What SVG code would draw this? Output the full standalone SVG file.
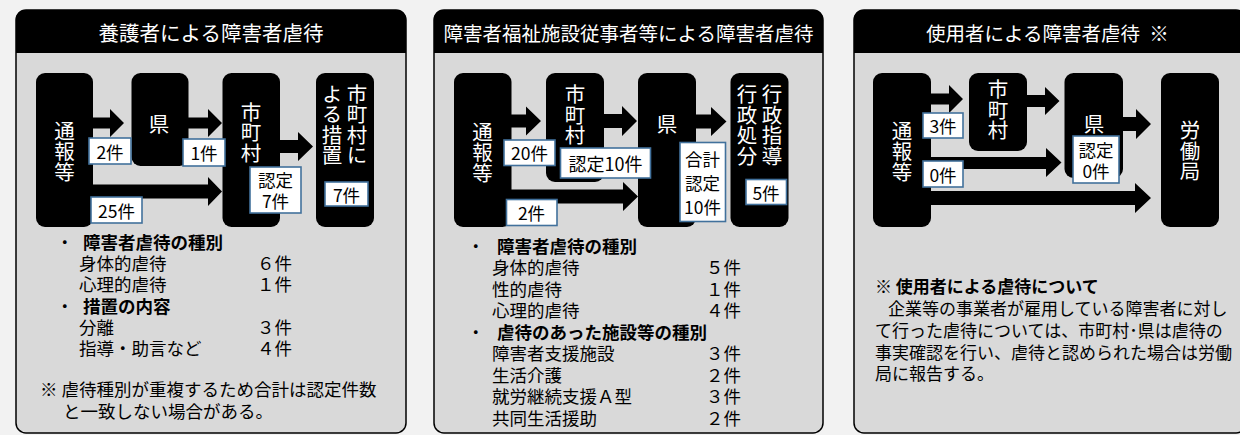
<svg xmlns="http://www.w3.org/2000/svg" width="1240" height="435" viewBox="0 0 1240 435">
<style>
.panel{fill:#d9d9d9;stroke:#000;stroke-width:1.5}
.hdr{fill:#000}
.htxt{fill:#fff;font-family:"Noto Sans CJK JP","Noto Sans",sans-serif;font-size:20.5px;text-anchor:middle;dominant-baseline:central}
.node{fill:#000}
.vtxt{fill:#fff;font-family:"Noto Sans CJK JP","Noto Sans",sans-serif;font-size:20.5px;text-anchor:middle;writing-mode:vertical-rl}
.ntxt{fill:#fff;font-family:"Noto Sans CJK JP","Noto Sans",sans-serif;font-size:20.5px;text-anchor:middle;dominant-baseline:central}
.lbl{fill:#fff;stroke:#41719c;stroke-width:1.6}
.ltxt{fill:#000;font-family:"Noto Sans CJK JP","Noto Sans",sans-serif;font-size:17.5px;text-anchor:middle;dominant-baseline:central}
.arrow{fill:#000}
.body{fill:#000;font-family:"Noto Sans CJK JP","Noto Sans",sans-serif;font-size:17.5px;dominant-baseline:central}
.b3{font-size:17px}
.bold{font-weight:700}
</style>
<rect x="0" y="0" width="1240" height="435" fill="#f2f2f2"/>

<!-- Panel 1 -->
<g id="panel1">
  <rect class="panel" x="16" y="10" width="390" height="423" rx="10"/>
  <path class="hdr" d="M16,53 V20 Q16,10 26,10 H396 Q406,10 406,20 V53 Z"/>
  <text class="htxt" x="211" y="32">養護者による障害者虐待</text>
</g>
<g id="p1-tsuho"><rect class="node" x="36" y="73" width="57" height="154" rx="9"/>
  <text class="vtxt" x="64.5" y="151.5">通報等</text></g>
<g id="p1-ken"><rect class="node" x="131.5" y="73" width="57" height="93" rx="9"/>
  <text class="ntxt" x="159" y="123">県</text></g>
<g id="p1-shichoson"><rect class="node" x="222.5" y="73" width="57.5" height="154" rx="9"/>
  <text class="vtxt" x="251" y="132.5">市町村</text></g>
<g id="p1-sochi"><rect class="node" x="316" y="73" width="58" height="154" rx="9"/>
  <text class="vtxt" x="357" y="124.75">市町村に</text>
  <text class="vtxt" x="332" y="124.75">よる措置</text></g>

<!-- Panel 2 -->
<g id="panel2">
  <rect class="panel" x="434" y="10" width="389" height="423" rx="10"/>
  <path class="hdr" d="M434,53 V20 Q434,10 444,10 H813 Q823,10 823,20 V53 Z"/>
  <text class="htxt" x="628.5" y="32" style="font-size:19.5px">障害者福祉施設従事者等による障害者虐待</text>
</g>
<g id="p2-tsuho"><rect class="node" x="454" y="73" width="57.5" height="154" rx="9"/>
  <text class="vtxt" x="482.5" y="152.5">通報等</text></g>
<g id="p2-shichoson"><rect class="node" x="546" y="73" width="58" height="109" rx="9"/>
  <text class="vtxt" x="575" y="115">市町村</text></g>
<g id="p2-ken"><rect class="node" x="638" y="73" width="58" height="154" rx="9"/>
  <text class="ntxt" x="667" y="123">県</text></g>
<g id="p2-gyosei"><rect class="node" x="730.5" y="73" width="58" height="154" rx="9"/>
  <text class="vtxt" x="772" y="125">行政指導</text>
  <text class="vtxt" x="747" y="125">行政処分</text></g>

<!-- Panel 3 -->
<g id="panel3">
  <rect class="panel" x="854" y="10" width="392" height="423" rx="10"/>
  <path class="hdr" d="M854,53 V20 Q854,10 864,10 H1236 Q1246,10 1246,20 V53 Z"/>
  <text class="htxt" x="926" y="32" style="font-size:19.5px;text-anchor:start">使用者による障害者虐待 <tspan dx="5">※</tspan></text>
</g>
<g id="p3-tsuho"><rect class="node" x="873" y="73" width="58" height="154" rx="9"/>
  <text class="vtxt" x="902" y="151.25">通報等</text></g>
<g id="p3-shichoson"><rect class="node" x="969" y="73" width="58" height="78" rx="9"/>
  <text class="vtxt" x="998" y="110">市町村</text></g>
<g id="p3-ken"><rect class="node" x="1064.5" y="73" width="58.5" height="105" rx="9"/>
  <text class="ntxt" x="1094" y="122.5">県</text></g>
<g id="p3-rodokyoku"><rect class="node" x="1161" y="73" width="58" height="154" rx="9"/>
  <text class="vtxt" x="1190" y="151">労働局</text></g>

<!-- Connectors -->
<g id="connectors">
  <polygon class="arrow" points="92,117.5 110,117.5 110,109 124,123 110,137 110,128.5 92,128.5"/>
  <polygon class="arrow" points="188,117.5 208,117.5 208,109 222,123 208,137 208,128.5 188,128.5"/>
  <polygon class="arrow" points="279,140 298,140 298,132 313,146.5 298,161 298,153 279,153"/>
  <polygon class="arrow" points="92,184.5 208,184.5 208,177 222,191.5 208,206 208,198.5 92,198.5"/>

  <polygon class="arrow" points="511,114.5 526,114.5 526,106.5 541,121 526,135.5 526,127.5 511,127.5"/>
  <polygon class="arrow" points="603,114 622,114 622,106 637,121 622,136 622,128 603,128"/>
  <polygon class="arrow" points="511,189.5 623,189.5 623,182 638,196.5 623,211 623,203.5 511,203.5"/>
  <polygon class="arrow" points="695,114.5 711,114.5 711,107 726.5,121.5 711,136 711,128.5 695,128.5"/>

  <polygon class="arrow" points="930,93.5 949,93.5 949,85 963,99 949,113 949,104.5 930,104.5"/>
  <polygon class="arrow" points="1026,95 1045,95 1045,87 1059.5,101 1045,115 1045,107 1026,107"/>
  <polygon class="arrow" points="930,157 1046,157 1046,148 1061.5,162.5 1046,177 1046,169 930,169"/>
  <polygon class="arrow" points="1122,117 1136,117 1136,109 1151,124 1136,139 1136,131 1122,131"/>
  <polygon class="arrow" points="930,191 1135,191 1135,183 1151,198 1135,213 1135,205 930,205"/>
</g>

<!-- Count labels -->
<g id="p1-lbl-2"><rect class="lbl" x="89" y="138" width="42" height="26"/><text class="ltxt" x="110" y="151">2件</text></g>
<g id="p1-lbl-1"><rect class="lbl" x="183" y="139" width="42" height="27"/><text class="ltxt" x="204" y="152.5">1件</text></g>
<g id="p1-lbl-25"><rect class="lbl" x="91" y="197" width="51" height="26"/><text class="ltxt" x="116.5" y="210">25件</text></g>
<g id="p1-lbl-nintei"><rect class="lbl" x="250" y="167" width="51" height="46"/><text class="ltxt" x="275.5" y="179.5">認定<tspan x="275.5" dy="20.5">7件</tspan></text></g>
<g id="p1-lbl-7"><rect class="lbl" x="325" y="182" width="43" height="24"/><text class="ltxt" x="346.5" y="194">7件</text></g>

<g id="p2-lbl-20"><rect class="lbl" x="504" y="140" width="51" height="25.5"/><text class="ltxt" x="529.5" y="152.5">20件</text></g>
<g id="p2-lbl-nintei"><rect class="lbl" x="560.5" y="148" width="90" height="30"/><text class="ltxt" x="605.5" y="163" style="font-size:18px">認定10件</text></g>
<g id="p2-lbl-2"><rect class="lbl" x="506.5" y="199.5" width="50.5" height="26"/><text class="ltxt" x="531.5" y="212.5">2件</text></g>
<g id="p2-lbl-gokei"><rect class="lbl" x="680" y="142.5" width="45.5" height="79"/><text class="ltxt" x="702.5" y="158">合計<tspan x="702.5" dy="23.5">認定</tspan><tspan x="702.5" dy="24">10件</tspan></text></g>
<g id="p2-lbl-5"><rect class="lbl" x="746" y="179.5" width="40.5" height="25"/><text class="ltxt" x="766" y="192">5件</text></g>

<g id="p3-lbl-3"><rect class="lbl" x="923" y="113" width="40" height="25"/><text class="ltxt" x="943" y="125.5">3件</text></g>
<g id="p3-lbl-0"><rect class="lbl" x="923" y="161" width="40" height="26"/><text class="ltxt" x="943" y="174">0件</text></g>
<g id="p3-lbl-nintei"><rect class="lbl" x="1073" y="136" width="46" height="47"/><text class="ltxt" x="1096" y="149.5">認定<tspan x="1096" dy="20.5">0件</tspan></text></g>

<!-- Panel 1 notes -->
<g id="p1-notes" class="body">
  <text x="56" y="241">・</text><text class="bold" x="83" y="241">障害者虐待の種別</text>
  <text x="79" y="262">身体的虐待</text><text x="257" y="262">６件</text>
  <text x="79" y="283">心理的虐待</text><text x="257" y="283">１件</text>
  <text x="56" y="305">・</text><text class="bold" x="83" y="305">措置の内容</text>
  <text x="79" y="326">分離</text><text x="257" y="326">３件</text>
  <text x="79" y="347">指導・助言など</text><text x="257" y="347">４件</text>
  <text x="40" y="388">※ 虐待種別が重複するため合計は認定件数</text>
  <text x="63" y="410">と一致しない場合がある。</text>
</g>

<!-- Panel 2 notes -->
<g id="p2-notes" class="body">
  <text x="467" y="245">・</text><text class="bold" x="497" y="245">障害者虐待の種別</text>
  <text x="492" y="266.5">身体的虐待</text><text x="706" y="266.5">５件</text>
  <text x="492" y="288">性的虐待</text><text x="706" y="288">１件</text>
  <text x="492" y="309.5">心理的虐待</text><text x="706" y="309.5">４件</text>
  <text x="467" y="331">・</text><text class="bold" x="497" y="331">虐待のあった施設等の種別</text>
  <text x="492" y="352.5">障害者支援施設</text><text x="706" y="352.5">３件</text>
  <text x="492" y="374">生活介護</text><text x="706" y="374">２件</text>
  <text x="492" y="395.5">就労継続支援Ａ型</text><text x="706" y="395.5">３件</text>
  <text x="492" y="417">共同生活援助</text><text x="706" y="417">２件</text>
</g>

<!-- Panel 3 notes -->
<g id="p3-notes" class="body b3">
  <text x="875" y="285">※ <tspan class="bold">使用者による虐待について</tspan></text>
  <text x="888" y="307.5">企業等の事業者が雇用している障害者に対し</text>
  <text x="875" y="329.5">て行った虐待については、市町村･県は虐待の</text>
  <text x="875" y="351">事実確認を行い、虐待と認められた場合は労働</text>
  <text x="875" y="372">局に報告する。</text>
</g>
</svg>
